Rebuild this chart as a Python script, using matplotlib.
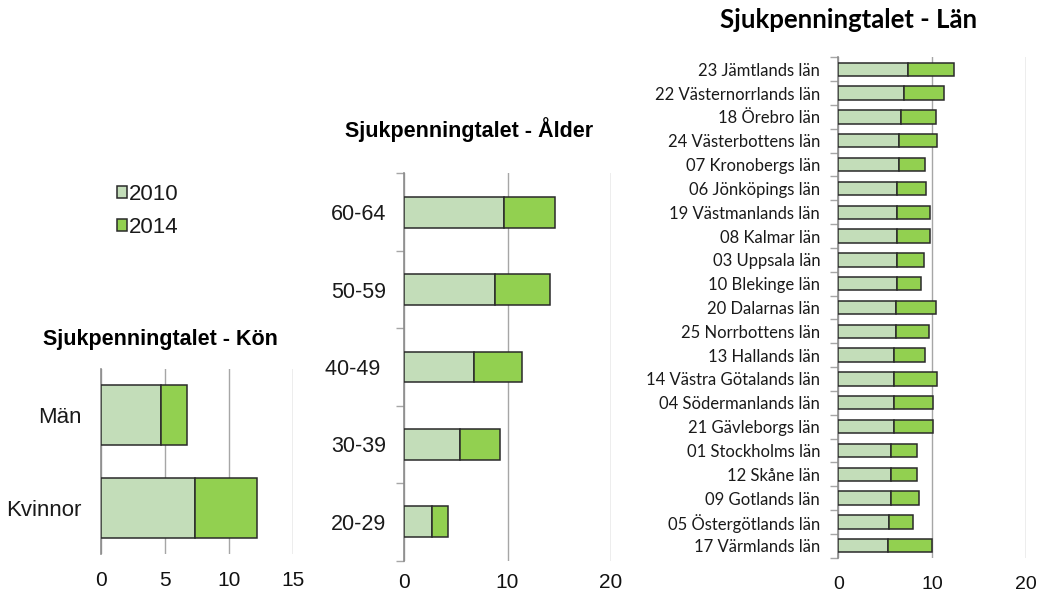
import matplotlib
matplotlib.use("Agg")
import matplotlib.pyplot as plt

# ---------------- data ----------------
years = ["2010", "2014"]

kon_labels = ["Män", "Kvinnor"]
kon_2010 = [4.7, 7.3]
kon_2014 = [2.0, 4.85]

alder_labels = ["60-64", "50-59", "40-49 ", "30-39", "20-29"]
alder_2010 = [9.66, 8.76, 6.72, 5.36, 2.71]
alder_2014 = [4.94, 5.39, 4.72, 3.88, 1.55]

lan_labels = ["23 Jämtlands län", "22 Västernorrlands län", "18 Örebro län",
              "24 Västerbottens län", "07 Kronobergs län", "06 Jönköpings län",
              "19 Västmanlands län", "08 Kalmar län", "03 Uppsala län",
              "10 Blekinge län", "20 Dalarnas län", "25 Norrbottens län",
              "13 Hallands län", "14 Västra Götalands län", "04 Södermanlands län",
              "21 Gävleborgs län", "01 Stockholms län", "12 Skåne län",
              "09 Gotlands län", "05 Östergötlands län", "17 Värmlands län"]
lan_2010 = [7.40, 7.05, 6.69, 6.44, 6.44, 6.30, 6.30, 6.30, 6.30, 6.30, 6.16,
            6.16, 5.98, 5.98, 5.98, 5.98, 5.66, 5.66, 5.66, 5.44, 5.34]
lan_2014 = [4.98, 4.20, 3.70, 4.09, 2.85, 3.10, 3.49, 3.49, 2.88, 2.49, 4.23,
            3.52, 3.31, 4.55, 4.16, 4.16, 2.77, 2.77, 2.99, 2.50, 4.66]

kon_xticks = [0, 5, 10, 15]
alder_xticks = [0, 10, 20]
lan_xticks = [0, 10, 20]

# ---------------- style ----------------
C_LIGHT = "#C3DDB9"
C_DARK = "#92D050"
EDGE = "#2A2A2A"
GRID = "#A6A6A6"
SANS = ["Liberation Sans", "DejaVu Sans"]
LANFONT = ["Lato", "DejaVu Sans"]

W, H = 1040, 594
fig = plt.figure(figsize=(W / 100, H / 100), dpi=100)


def px_axes(x0, x1, y0, y1):
    return fig.add_axes([x0 / W, 1 - y1 / H, (x1 - x0) / W, (y1 - y0) / H])


def style(ax, xmax, xticks, ylabels, bar_h, seg1, seg2, yfont, fs_y, fs_x,
          padx, pady, ytickmarks):
    n = len(ylabels)
    ys = list(range(n))
    b1 = ax.barh(ys, seg1, height=bar_h, color=C_LIGHT, edgecolor=EDGE,
                 linewidth=1.1, zorder=3, label=years[0])
    b2 = ax.barh(ys, seg2, left=seg1, height=bar_h, color=C_DARK,
                 edgecolor=EDGE, linewidth=1.1, zorder=3, label=years[1])
    ax.set_xlim(0, xmax)
    ax.set_ylim(n - 0.5, -0.5)
    ax.set_xticks(xticks)
    ax.set_xticklabels([str(t) for t in xticks])
    for lab in ax.get_xticklabels():
        lab.set_fontfamily(SANS)
        lab.set_fontsize(fs_x)
    ax.set_yticks(ys)
    ax.set_yticklabels(ylabels)
    for lab in ax.get_yticklabels():
        lab.set_fontfamily(yfont)
        lab.set_fontsize(fs_y)
        lab.set_color("#1a1a1a")
    ax.tick_params(axis="x", length=0, pad=padx, colors="#111111")
    ax.tick_params(axis="y", length=0, pad=pady)
    if ytickmarks:
        ax.set_yticks([i - 0.5 for i in range(n + 1)], minor=True)
        ax.tick_params(axis="y", which="minor", length=6, width=1.0,
                       color=GRID, direction="out")
    ax.xaxis.grid(True, color=GRID, linewidth=1.0, zorder=0)
    ax.set_axisbelow(True)
    for s in ["top", "right", "bottom"]:
        ax.spines[s].set_visible(False)
    ax.spines["left"].set_color("#8C8C8C")
    ax.spines["left"].set_linewidth(1.2)
    return b1, b2


ax1 = px_axes(101, 293.3, 369, 554)
b1, b2 = style(ax1, 15, kon_xticks, kon_labels, 0.65, kon_2010, kon_2014,
               SANS, 16, 15, 12, 14, False)

ax2 = px_axes(404.3, 610.7, 173.3, 560.7)
style(ax2, 20, alder_xticks, alder_labels, 0.4, alder_2010, alder_2014,
      SANS, 15.5, 15, 9, 13, True)

ax3 = px_axes(838.3, 1025.7, 57.3, 557.7)
style(ax3, 20, lan_xticks, lan_labels, 0.56, lan_2010, lan_2014,
      LANFONT, 12, 14, 13, 13, True)

# titles
fig.text(160.5 / W, 1 - 340 / H, "Sjukpenningtalet - Kön", ha="center",
         va="center", fontsize=15.5, fontweight="bold", family=SANS)
fig.text(469.5 / W, 1 - 130 / H, "Sjukpenningtalet - Ålder", ha="center",
         va="center", fontsize=15.5, fontweight="bold", family=SANS)
fig.text(849 / W, 1 - 20 / H, "Sjukpenningtalet - Län", ha="center",
         va="center", fontsize=18.5, fontweight="bold", family=LANFONT)

# legend
leg = fig.legend([b1, b2], years, loc="upper left",
                 bbox_to_anchor=(97 / W, 1 - 164 / H), frameon=False,
                 handlelength=0.45, handleheight=0.45, handletextpad=0.1,
                 labelspacing=0.55, prop={"family": SANS, "size": 16})
for t in leg.get_texts():
    t.set_color("#1a1a1a")

fig.savefig("out.png", dpi=100)
